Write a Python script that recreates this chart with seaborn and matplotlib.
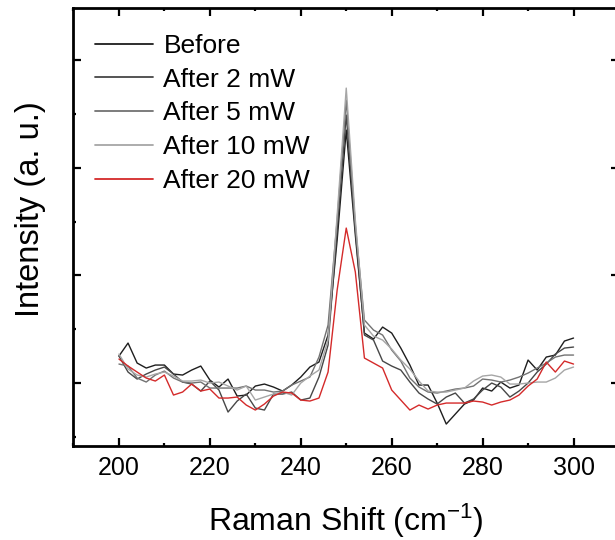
import numpy as np
import pandas as pd
import matplotlib
matplotlib.use("Agg")
import matplotlib.pyplot as plt
from matplotlib.ticker import FixedLocator, MultipleLocator
import seaborn as sns

# ---------------- data ----------------
raman_shift = [200, 202, 204, 206, 208, 210, 212, 214, 216, 218,
               220, 222, 224, 226, 228, 230, 232, 234, 236, 238,
               240, 242, 244, 246, 248, 250, 252, 254, 256, 258,
               260, 262, 264, 266, 268, 270, 272, 274, 276, 278,
               280, 282, 284, 286, 288, 290, 292, 294, 296, 298, 300]

before = [90, 103, 83, 78, 81, 81, 72, 71, 76, 80,
          66, 59, 67, 50, 51, 60, 62, 59, 55, 61,
          69, 79, 84, 111, 206, 316, 211, 113, 107, 119,
          113, 98, 81, 61, 61, 43, 22, 32, 42, 46,
          58, 55, 64, 58, 61, 86, 76, 89, 91, 105, 108]

after_2mw = [90, 74, 67, 72, 76, 79, 72, 64, 62, 55,
             65, 56, 34, 45, 52, 38, 36, 52, 52, 54,
             46, 48, 69, 101, 216, 331, 216, 111, 106, 85,
             80, 76, 64, 53, 47, 42, 49, 53, 43, 47,
             56, 63, 59, 49, 55, 63, 74, 82, 92, 98, 99]

after_5mw = [82, 80, 68, 64, 71, 75, 68, 64, 63, 64,
             58, 58, 58, 58, 60, 56, 56, 54, 55, 61,
             65, 69, 89, 121, 226, 346, 221, 126, 116, 111,
             96, 85, 68, 59, 54, 53, 55, 57, 58, 60,
             67, 66, 64, 66, 69, 73, 78, 83, 89, 91, 91]

after_10mw = [92, 77, 71, 69, 72, 74, 70, 65, 65, 66,
              63, 64, 60, 56, 60, 46, 49, 52, 54, 51,
              63, 70, 76, 106, 231, 358, 226, 121, 110, 106,
              97, 86, 77, 65, 55, 54, 54, 56, 58, 65,
              70, 71, 69, 62, 62, 63, 64, 64, 68, 76, 79]

after_20mw = [87, 80, 74, 68, 65, 71, 51, 54, 62, 55,
              57, 48, 48, 49, 41, 36, 42, 50, 54, 53,
              46, 45, 48, 74, 156, 218, 174, 88, 83, 78,
              56, 46, 36, 41, 37, 41, 43, 43, 43, 45,
              44, 41, 44, 46, 51, 60, 67, 84, 74, 85, 82]

series_names = ["Before", "After 2 mW", "After 5 mW", "After 10 mW", "After 20 mW"]
series_values = [before, after_2mw, after_5mw, after_10mw, after_20mw]
series_colors = ["#1e1e1e", "#474747", "#727272", "#a6a6a6", "#d42a2a"]

x_ticks = [200, 220, 240, 260, 280, 300]
x_label = "Raman Shift (cm$^{-1}$)"
y_label = "Intensity (a. u.)"

# ---------------- build long table ----------------
frames = []
for name, vals in zip(series_names, series_values):
    frames.append(pd.DataFrame({"shift": raman_shift, "intensity": vals, "sample": name}))
df = pd.concat(frames, ignore_index=True)

# ---------------- style ----------------
sns.set_theme(style="ticks")
plt.rcParams["font.family"] = ["Liberation Sans", "DejaVu Sans"]
plt.rcParams["mathtext.fontset"] = "custom"
plt.rcParams["mathtext.rm"] = "Liberation Sans"
plt.rcParams["mathtext.it"] = "Liberation Sans"
plt.rcParams["mathtext.bf"] = "Liberation Sans"
plt.rcParams["text.color"] = "black"
plt.rcParams["axes.labelcolor"] = "black"
plt.rcParams["xtick.color"] = "black"
plt.rcParams["ytick.color"] = "black"

fig = plt.figure(figsize=(6.15, 5.4), dpi=100)
ax = fig.add_axes([0.1195, 0.174, 0.887, 0.811])

sns.lineplot(data=df, x="shift", y="intensity", hue="sample",
             hue_order=series_names,
             palette=dict(zip(series_names, series_colors)),
             linewidth=1.0, ax=ax, legend=True, sort=False)

ax.set_xlim(190, 310)
ax.set_ylim(0, 438)

ax.xaxis.set_major_locator(FixedLocator(x_ticks))
ax.xaxis.set_minor_locator(MultipleLocator(10))
ax.yaxis.set_major_locator(FixedLocator([63, 170.7, 278.3, 386]))
ax.yaxis.set_minor_locator(FixedLocator([9.2, 116.8, 224.5, 332.2]))
ax.set_yticklabels([])

ax.tick_params(which="both", direction="in", top=True, right=True,
               color="black", width=1.6)
ax.tick_params(which="major", length=5.5)
ax.tick_params(which="minor", length=2.5)
ax.tick_params(axis="x", which="major", labelsize=18, pad=7, labelcolor="black")
ax.tick_params(axis="y", labelleft=False)

for sp in ax.spines.values():
    sp.set_linewidth(2.0)
    sp.set_color("black")
    sp.set_visible(True)

ax.set_xlabel(x_label, fontsize=23, labelpad=15.5, color="black")
ax.set_ylabel(y_label, fontsize=23.5, color="black")
ax.yaxis.set_label_coords(-0.05, 0.54)

leg_old = ax.get_legend()
handles = leg_old.legend_handles
labels = [t.get_text() for t in leg_old.get_texts()]
leg_old.remove()
for h, c in zip(handles, series_colors):
    h.set_color(c)
    h.set_linewidth(1.3)
ax.legend(handles, labels, loc="upper left", bbox_to_anchor=(0.039, 0.941),
          frameon=False, fontsize=19, handlelength=2.2, handletextpad=0.4,
          labelspacing=0.37, borderpad=0, borderaxespad=0, labelcolor="black")

fig.savefig("out.png", dpi=100)
